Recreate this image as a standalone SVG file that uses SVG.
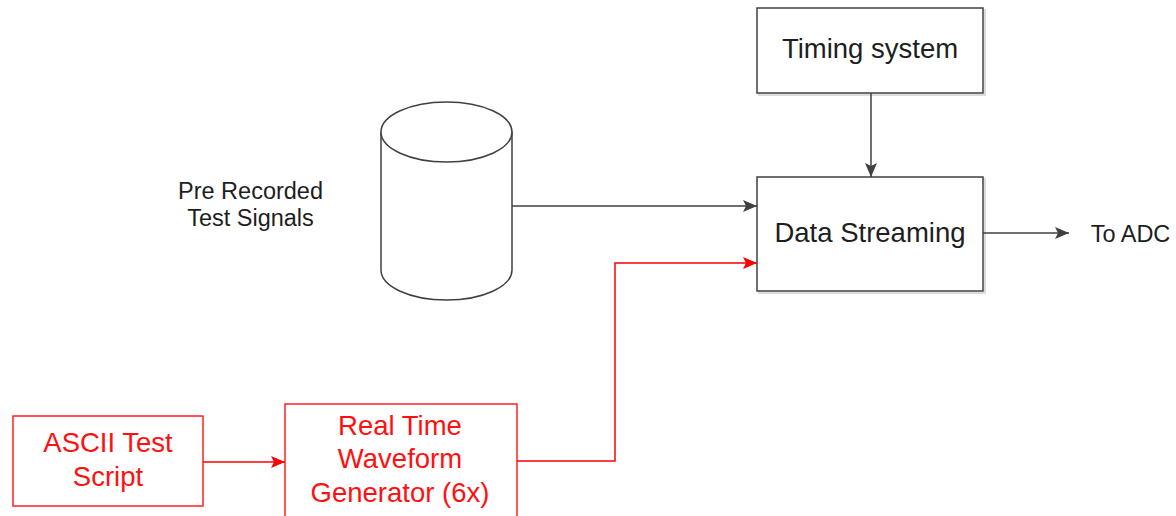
<svg xmlns="http://www.w3.org/2000/svg" width="1176" height="516" viewBox="0 0 1176 516">
  <defs>
    <marker id="arrowGray" markerWidth="14" markerHeight="12" refX="14" refY="6" orient="auto" markerUnits="userSpaceOnUse">
      <path d="M0,0 L14,6 L0,12 L3,6 Z" fill="#404040"/>
    </marker>
    <marker id="arrowRed" markerWidth="14" markerHeight="12" refX="14" refY="6" orient="auto" markerUnits="userSpaceOnUse">
      <path d="M0,0 L14,6 L0,12 L3,6 Z" fill="#ff0000"/>
    </marker>
  </defs>
  <style>
    .box { fill: #ffffff; stroke: #404040; stroke-width: 1.5; }
    .rbox { fill: #ffffff; stroke: #ff2020; stroke-width: 1.5; }
    .shadow { fill: none; stroke: #dcdcdc; stroke-width: 2; }
    .t { font-family: "Liberation Sans", Arial, sans-serif; fill: #1e1e1e; text-anchor: middle; }
    .big { font-size: 27.5px; }
    .small { font-size: 23.5px; }
    .red { fill: #ff1010; }
    .link { fill: none; stroke: #404040; stroke-width: 1.5; }
    .rlink { fill: none; stroke: #ff0000; stroke-width: 1.5; }
  </style>
  <rect width="1176" height="516" fill="#ffffff"/>

  <!-- Timing system -->
  <g id="timing">
    <rect class="shadow" x="759" y="10" width="226" height="85"/>
    <rect class="box" x="757" y="8" width="226" height="85"/>
    <text class="t big" x="870" y="58">Timing system</text>
  </g>

  <!-- Data Streaming -->
  <g id="streaming">
    <rect class="shadow" x="759" y="179" width="226" height="114"/>
    <rect class="box" x="757" y="177" width="226" height="114"/>
    <text class="t big" x="870" y="242">Data Streaming</text>
  </g>

  <!-- Pre recorded signal store (cylinder) -->
  <g id="store">
    <path d="M381,132 L381,270 A65.5,30 0 0 0 512,270 L512,132" fill="#ffffff" stroke="#404040" stroke-width="1.5"/>
    <ellipse cx="446.5" cy="132" rx="65.5" ry="30" fill="#ffffff" stroke="#404040" stroke-width="1.5"/>
    <text class="t small" x="250.5" y="199">Pre Recorded</text>
    <text class="t small" x="250.5" y="226">Test Signals</text>
  </g>

  <!-- ASCII Test Script -->
  <g id="script">
    <rect class="rbox" x="13" y="416" width="190" height="90"/>
    <text class="t big red" x="108" y="452">ASCII Test</text>
    <text class="t big red" x="108" y="486">Script</text>
  </g>

  <!-- Real Time Waveform Generator -->
  <g id="generator">
    <rect class="rbox" x="285" y="404" width="232" height="120"/>
    <text class="t big red" x="400" y="435">Real Time</text>
    <text class="t big red" x="400" y="468">Waveform</text>
    <text class="t big red" x="400" y="502">Generator (6x)</text>
  </g>

  <!-- To ADC label -->
  <g id="adc">
    <text class="t small" x="1130.5" y="242">To ADC</text>
  </g>

  <!-- Connectors -->
  <g id="connectors">
    <line class="link" x1="871" y1="93" x2="871" y2="177" marker-end="url(#arrowGray)"/>
    <line class="link" x1="512" y1="206" x2="757" y2="206" marker-end="url(#arrowGray)"/>
    <line class="link" x1="983" y1="233" x2="1069" y2="233" marker-end="url(#arrowGray)"/>
    <line class="rlink" x1="203" y1="462" x2="285" y2="462" marker-end="url(#arrowRed)"/>
    <path class="rlink" d="M517,461 L615,461 L615,263 L757,263" marker-end="url(#arrowRed)"/>
  </g>
</svg>
